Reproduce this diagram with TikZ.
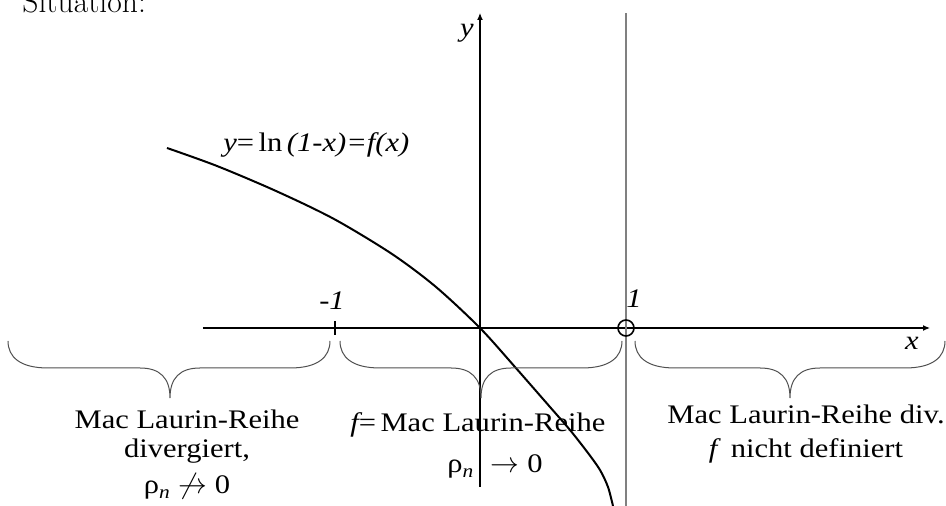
\documentclass[tikz,border=0pt]{standalone}
\usepackage{amsmath,amssymb}
\usepackage{fontspec}
\newfontfamily\tnr[FakeStretch=1.14]{Liberation Serif}
\usetikzlibrary{arrows.meta}
\definecolor{lgray}{HTML}{808080}
\definecolor{bgray}{HTML}{505050}
\tikzset{
  % axes with small filled tips, graph drawn heavier
  axis/.style  = {-{Latex[length=3.5pt,width=3pt]}, line width=0.6pt},
  graph/.style = {line width=1pt},
  pole/.style  = {line width=0.6pt, lgray},
  brc/.style   = {line width=0.5pt, bgray},
  lbl/.style   = {font=\tnr\fontsize{13.4}{14.5}\selectfont, inner sep=0pt, align=center},
  mlbl/.style  = {font=\tnr\fontsize{13.4}{14.5}\selectfont\itshape, inner sep=0pt},
}

\begin{document}
\begin{tikzpicture}[x=0.5pt,y=0.5pt]
\useasboundingbox (-480,-178) rectangle (466,328);
% --- axes and pole ------------------------------------------------------
\coordinate (xs) at (-277,0);  \coordinate (xe) at (450,0);
\coordinate (ys) at (0,-159);  \coordinate (ye) at (0,315);
\coordinate (pb) at (146,-178); \coordinate (pt) at (146,315);
\draw[axis] (xs) -- (xe);
\draw[axis] (ys) -- (ye);
\draw[pole] (pb) -- (pt);
\draw[line width=1pt] (-145,-7) -- (-145,7);
\draw[line width=0.8pt] (146,0) circle[radius=4pt];

% --- graph of ln(1-x) ---------------------------------------------------
\draw[graph] plot[smooth] coordinates {(-313,180) (-263,162) (-204,137) (-146,109)
  (-88,74) (-44,41) (0,0) (35,-39) (70,-79) (90,-102) (108,-125) (120,-142) (128,-159) (133,-178)};

% --- braces below the axis ----------------------------------------------
\foreach \a/\m/\b in {-472/-310/-150, -140/1/142, 155/310/465} {
  \draw[brc] (\a,-13) .. controls (\a,-29) and (\a+12,-40) .. (\a+40,-40) -- (\m-30,-40)
    .. controls (\m-10,-40) and (\m,-50) .. (\m,-70)
    .. controls (\m,-50) and (\m+10,-40) .. (\m+30,-40) -- (\b-40,-40)
    .. controls (\b-12,-40) and (\b,-29) .. (\b,-13);
}

% --- labels --------------------------------------------------------------
\node[font=\fontsize{15.8}{18}\selectfont, anchor=base west, inner sep=0pt] (sit) at (-458,315) {Situation:};
\node[mlbl, anchor=base] (ml) at (-148,18) {-1};
\node[mlbl, anchor=base] (pl) at (154,20) {1};
\node[mlbl] (xl) at (432,-15) {x};
\node[mlbl] (yl) at (-13,295) {y};
\node[lbl, anchor=base west] (fl) at (-257,176) {{\itshape y}=\,ln\,{\itshape(1-x)=f(x)}};

\node[lbl, anchor=north] (lt) at (-293,-82) {Mac Laurin-Reihe\\divergiert,\\[3.5pt]ρ\textsubscript{\itshape n} $\not\rightarrow$ 0};
\node[lbl, anchor=base west] (mt) at (-130,-104) {{\itshape f}=\,Mac Laurin-Reihe};
\node[lbl, anchor=base] (mb) at (15,-145) {ρ\textsubscript{\itshape n}\,\, $\rightarrow$ 0};
\node[lbl, anchor=north] (rt) at (326,-77) {Mac Laurin-Reihe div.\\[2.5pt]{\itshape f}\enspace nicht definiert};
\end{tikzpicture}
\end{document}
